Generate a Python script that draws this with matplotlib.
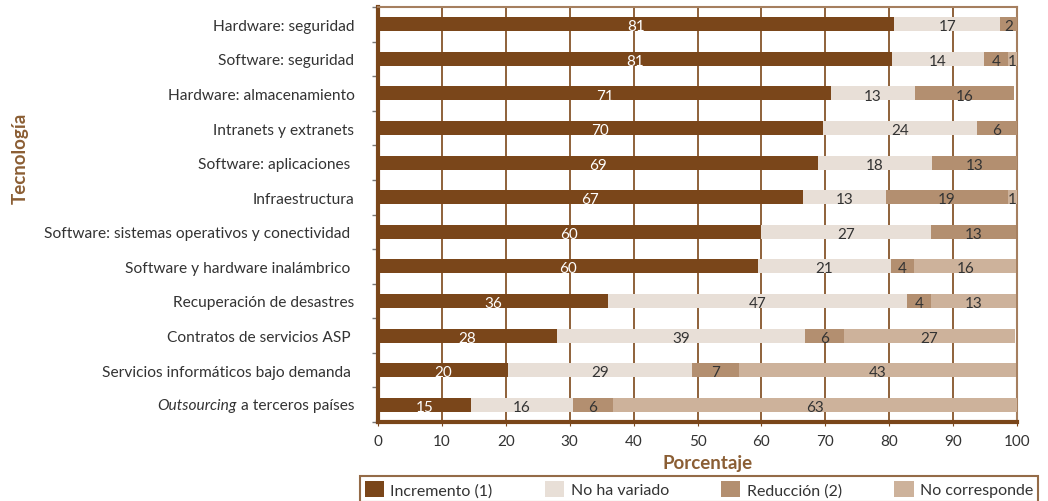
import numpy as np
import matplotlib
matplotlib.use("Agg")
import matplotlib.pyplot as plt
from matplotlib.patches import Patch
from matplotlib.transforms import offset_copy

plt.rcParams['font.family'] = ['Lato', 'DejaVu Sans']

categories = [
    "Hardware: seguridad",
    "Software: seguridad",
    "Hardware: almacenamiento",
    "Intranets y extranets",
    "Software: aplicaciones ",
    "Infraestructura",
    "Software: sistemas operativos y conectividad ",
    "Software y hardware inalámbrico ",
    "Recuperación de desastres",
    "Contratos de servicios ASP ",
    "Servicios informáticos bajo demanda ",
    "Outsourcing a terceros países",
]
series_names = ["Incremento (1)", "No ha variado", "Reducción (2)", "No corresponde"]

# segment lengths
incremento = [80.8, 80.4, 70.9, 69.6, 68.9, 66.5, 59.9, 59.5, 36.0, 28.0, 20.3, 14.6]
no_variado = [16.6, 14.4, 13.1, 24.1, 17.8, 13.0, 26.6, 20.8, 46.8, 38.8, 28.8, 15.9]
reduccion = [2.6, 3.8, 15.6, 6.3, 13.3, 19.1, 13.4, 3.6, 3.8, 6.1, 7.4, 6.2]
no_corresp = [0.0, 1.4, 0.0, 0.0, 0.0, 1.4, 0.0, 16.0, 13.3, 26.8, 43.3, 63.3]

# printed labels (None = no label)
lab_incremento = [81, 81, 71, 70, 69, 67, 60, 60, 36, 28, 20, 15]
lab_no_variado = [17, 14, 13, 24, 18, 13, 27, 21, 47, 39, 29, 16]
lab_reduccion = [2, 4, 16, 6, 13, 19, 13, 4, 4, 6, 7, 6]
lab_no_corresp = [None, 1, None, None, None, 1, None, 16, 13, 27, 43, 63]

colors = ["#7a461a", "#e8dfd7", "#b38f70", "#cdb29b"]
txt_colors = ["white", "#333333", "#333333", "#333333"]
brown = "#7a461a"
cat_fs = 11.2
pad_pt = 17

fig = plt.figure(figsize=(10.48, 5.02), dpi=100)
ax = fig.add_axes([378 / 1048, 1 - 423 / 502, 639 / 1048, 415 / 502])

y = np.arange(len(categories))
left = np.zeros(len(categories))
values = [incremento, no_variado, reduccion, no_corresp]
labels = [lab_incremento, lab_no_variado, lab_reduccion, lab_no_corresp]
for vals, labs, c, tc, name in zip(values, labels, colors, txt_colors, series_names):
    vals = np.array(vals)
    ax.barh(y, vals, left=left, height=0.405, color=c, zorder=3, label=name)
    for i, (v, l) in enumerate(zip(vals, labs)):
        if l is None:
            continue
        ax.text(left[i] + v / 2, y[i] + 0.06, str(l), ha='center', va='center',
                color=tc, fontsize=11, zorder=4)
    left += vals

ax.set_xlim(0, 100)
ax.set_ylim(len(categories) - 0.5, -0.5)
ax.set_xticks(np.arange(0, 101, 10))
ax.set_yticks(y)
ax.set_yticklabels(categories[:-1] + [""], fontsize=cat_fs, color="#333333")
ax.set_yticks(np.arange(-0.5, len(categories), 1), minor=True)
ax.tick_params(axis='y', which='major', length=0, pad=pad_pt)
ax.tick_params(axis='y', which='minor', length=4, color="#777777", width=1)
ax.tick_params(axis='x', length=3, color=brown, labelsize=11, labelcolor="#333333", pad=6)

# last label: italic "Outsourcing" + regular rest
tr = offset_copy(ax.get_yaxis_transform(), fig=fig, x=-pad_pt, units='points')
t2 = ax.text(0, len(categories) - 1, " a terceros países", transform=tr, ha='right',
             va='center', fontsize=cat_fs, color="#333333")
fig.canvas.draw()
bb = t2.get_window_extent()
w_pt = bb.width * 72 / fig.dpi
tr1 = offset_copy(ax.get_yaxis_transform(), fig=fig, x=-pad_pt - w_pt, units='points')
ax.text(0, len(categories) - 1, "Outsourcing", transform=tr1, ha='right', va='center',
        fontsize=cat_fs, color="#333333", style='italic')

ax.grid(axis='x', color="#86552b", linewidth=1.3, zorder=1)
for side in ['left', 'bottom']:
    ax.spines[side].set_color(brown)
    ax.spines[side].set_linewidth(3)
for side in ['top', 'right']:
    ax.spines[side].set_color("#a57f5f")
    ax.spines[side].set_linewidth(1.5)

fig.text(20 / 1048, 1 - 158 / 502, "Tecnología", rotation=90, ha='center', va='center',
         fontsize=13.5, fontweight='bold', color="#8b5e34")
fig.text(708 / 1048, 1 - 464 / 502, "Porcentaje", ha='center', va='center',
         fontsize=13.5, fontweight='bold', color="#8b5e34")

handles = [Patch(facecolor=c, edgecolor='none') for c in colors]
leg = fig.legend(handles, series_names, loc='upper left', ncol=4, mode='expand',
                 bbox_to_anchor=(360 / 1048, 1 - 503 / 502, 678 / 1048, 26 / 502),
                 frameon=True, fancybox=False, fontsize=11.5, handlelength=1.2,
                 handleheight=1.2, handletextpad=0.4, borderaxespad=0,
                 borderpad=0.3, labelcolor="#333333")
leg.get_frame().set_edgecolor(brown)
leg.get_frame().set_linewidth(1.5)

fig.savefig("out.png", dpi=100)
